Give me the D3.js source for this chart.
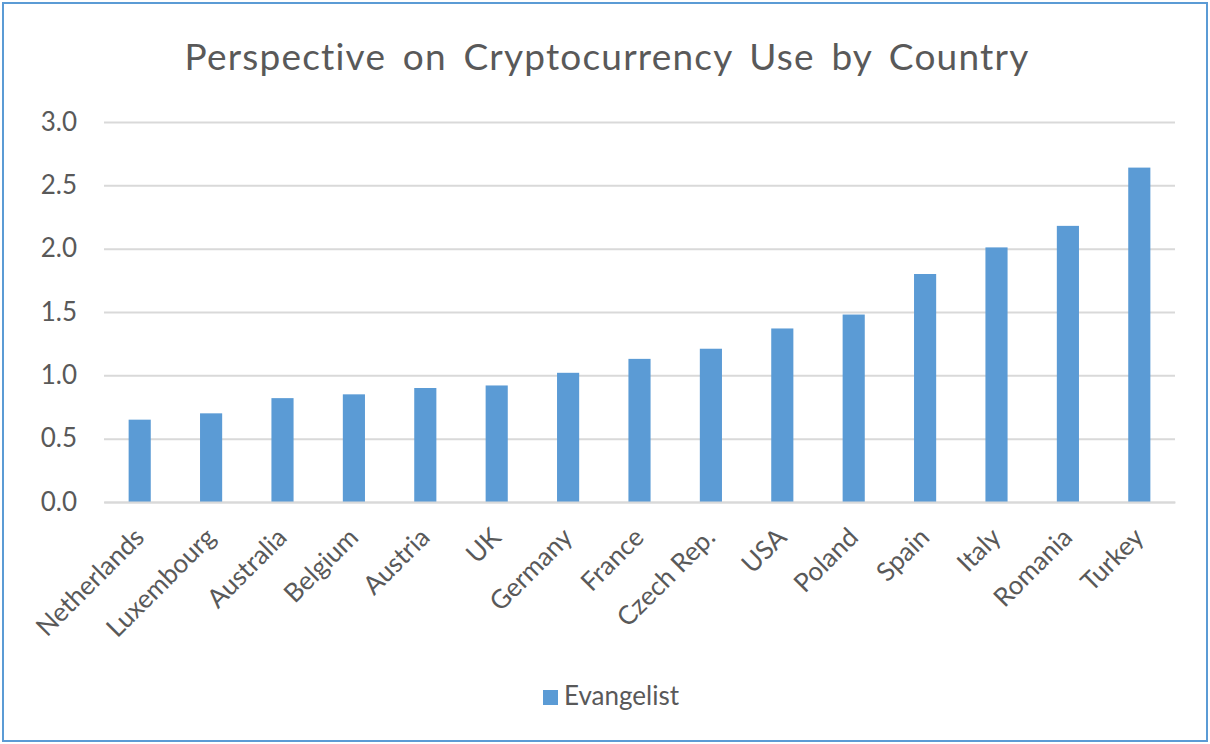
<!DOCTYPE html>
<html><head><meta charset="utf-8">
<script src="https://cdn.jsdelivr.net/npm/d3@7"></script>
<style>body{margin:0;background:#fff;} svg{display:block;}</style>
</head><body>
<svg id="c" width="1210" height="744"></svg>
<script>
const categories = ["Netherlands","Luxembourg","Australia","Belgium","Austria","UK","Germany","France","Czech Rep.","USA","Poland","Spain","Italy","Romania","Turkey"];
const evangelist = [0.65,0.70,0.82,0.85,0.90,0.92,1.02,1.13,1.21,1.37,1.48,1.80,2.01,2.18,2.64];
const yTicks = [0,0.5,1.0,1.5,2.0,2.5,3.0];
const seriesName = "Evangelist";
const title = "Perspective on Cryptocurrency Use by Country";

const svg = d3.select("#c");
const W = 1210, H = 744;
const font = "Lato, 'Open Sans', sans-serif";
const textColor = "#595959";
const barColor = "#5b9bd5";

svg.append("rect").attr("x",3).attr("y",3).attr("width",W-6).attr("height",H-6)
  .attr("fill","#fff").attr("stroke",barColor).attr("stroke-width",2);

const m = {l:104, r:1175, t:122, b:502};
const x = d3.scaleBand().domain(categories).range([m.l,m.r]).paddingInner(0.69).paddingOuter(0.345);
const y = d3.scaleLinear().domain([0,3]).range([m.b,m.t]);

svg.append("text").attr("x",607).attr("y",70).attr("text-anchor","middle")
  .attr("font-family",font).attr("font-size",37).attr("fill",textColor)
  .attr("letter-spacing",1.2).attr("word-spacing",6).text(title);

const gy = svg.append("g").attr("transform",`translate(${m.l},0)`)
  .call(d3.axisLeft(y).tickValues(yTicks).tickFormat(d3.format(".1f")).tickSize(-(m.r-m.l)).tickPadding(27));
gy.select(".domain").remove();
gy.selectAll(".tick line").attr("stroke","#d9d9d9").attr("stroke-width",2);
gy.selectAll(".tick text").attr("font-family",font).attr("font-size",26).attr("fill",textColor);

svg.append("g").selectAll("rect").data(categories).join("rect")
  .attr("x",d=>x(d)).attr("width",x.bandwidth())
  .attr("y",(d,i)=>y(evangelist[i])).attr("height",(d,i)=>y(0)-y(evangelist[i]))
  .attr("fill",barColor);

const gx = svg.append("g").attr("transform",`translate(0,${m.b})`)
  .call(d3.axisBottom(x).tickSize(0).tickPadding(0));
gx.select(".domain").attr("stroke","#d9d9d9").attr("stroke-width",2);
gx.selectAll(".tick text").attr("font-family",font).attr("font-size",26).attr("fill",textColor)
  .attr("text-anchor","end").attr("dy",null).attr("y",0)
  .attr("transform","translate(6,37) rotate(-45)");

const lg = svg.append("g");
lg.append("rect").attr("x",543).attr("y",690).attr("width",15).attr("height",15).attr("fill",barColor);
lg.append("text").attr("x",564).attr("y",705).attr("font-family",font).attr("font-size",26)
  .attr("fill",textColor).text(seriesName);
</script>
</body></html>
